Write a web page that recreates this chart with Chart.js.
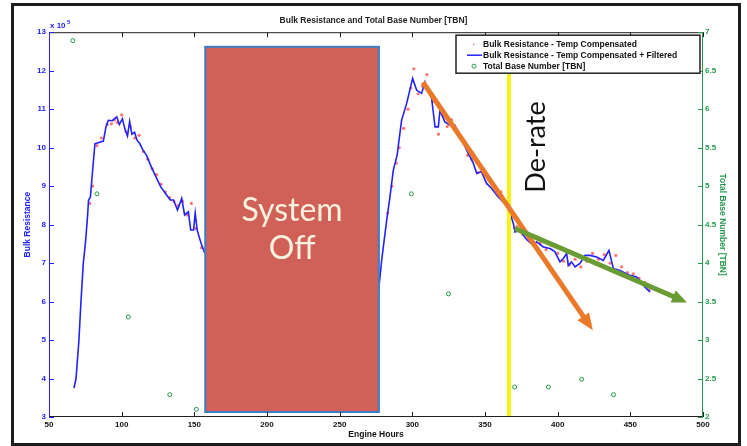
<!DOCTYPE html>
<html>
<head>
<meta charset="utf-8">
<script src="https://cdn.jsdelivr.net/npm/chart.js@4.4.0/dist/chart.umd.min.js"></script>
<style>
html, body { margin: 0; padding: 0; background: #fff; }
#wrap { position: relative; width: 747px; height: 446px; }
</style>
</head>
<body>
<div id="wrap"><canvas id="chart"></canvas></div>
<script>
// filtered bulk resistance (x 10^5) before the shutdown
const hoursA = [67.2, 68.6, 70.6, 72.0, 73.6, 75.0, 76.3, 77.2, 78.5, 80.0, 81.6, 87.4, 89.2, 90.8, 93.5, 96.6, 98.4, 100.5, 102.5, 104.0, 105.5, 107.0, 108.9, 110.5, 112.5, 114.5, 117.1, 120.4, 123.6, 126.9, 130.2, 133.4, 135.7, 138.4, 141.3, 143.3, 145.9, 147.5, 149.5, 150.6, 152.0, 154.7, 157.3];
const filteredA = [3.75, 4.0, 5.0, 6.0, 7.0, 7.5, 8.1, 8.63, 8.72, 9.4, 10.1, 10.17, 10.54, 10.71, 10.7, 10.8, 10.6, 10.75, 10.45, 10.3, 10.68, 10.35, 10.4, 10.2, 10.1, 9.95, 9.8, 9.5, 9.24, 8.98, 8.81, 8.64, 8.64, 8.38, 8.68, 8.25, 8.33, 7.86, 7.86, 8.3, 7.85, 7.51, 7.25];

// after restart
const hoursB = [276.6, 278.9, 282.3, 284.6, 286.9, 289.5, 292.6, 296.1, 300.2, 303.0, 306.4, 308.7, 313.3, 315.6, 317.9, 319.0, 322.4, 325.9, 329.3, 332.8, 337.4, 342.0, 344.3, 347.5, 351.1, 354.6, 359.1, 366.0, 369.5, 370.6, 374.0, 378.5, 383.2, 385.5, 390.1, 394.7, 398.0, 401.6, 403.9, 406.2, 407.3, 409.6, 411.9, 415.3, 418.8, 422.2, 426.8, 431.4, 435.3, 438.3, 442.8, 449.7, 454.3, 456.6, 460.0, 463.5];
const filteredB = [6.21, 7.07, 8.1, 8.72, 9.41, 9.8, 10.71, 11.15, 11.8, 11.49, 11.41, 11.71, 11.28, 10.54, 10.54, 10.97, 10.67, 10.58, 10.58, 10.32, 9.93, 9.59, 9.33, 9.38, 9.07, 8.94, 8.72, 8.46, 8.03, 7.81, 7.85, 7.62, 7.46, 7.55, 7.42, 7.38, 7.3, 7.03, 7.12, 7.25, 6.94, 7.03, 6.9, 6.99, 7.2, 7.2, 7.16, 7.07, 7.33, 6.86, 6.81, 6.68, 6.64, 6.55, 6.38, 6.25];

// raw (unfiltered) readings, red dots
const rawHours = [78, 80, 83, 86, 90, 93, 95, 97, 100, 103, 106, 109, 112, 115, 118, 121, 124, 127, 130, 133, 136, 139, 142, 145, 148, 151, 155,
  283, 286, 289, 291, 294, 297, 299, 301, 304, 307, 310, 314, 318, 321, 324, 327, 330, 334, 338, 341, 345, 349, 353, 357, 361, 365, 368, 372, 376, 380, 384, 388, 392, 396, 400, 404, 408, 412, 416, 420, 424, 428, 432, 436, 440, 444, 448, 452, 456, 460, 463];
const rawValues = [8.55, 9.0, 10.05, 10.25, 10.6, 10.62, 10.72, 10.65, 10.85, 10.42, 10.55, 10.25, 10.32, 9.9, 9.7, 9.45, 9.3, 9.05, 8.85, 8.7, 8.6, 8.5, 8.6, 8.25, 8.55, 7.9, 7.4,
  8.3, 9.0, 9.6, 10.0, 10.5, 11.0, 11.55, 12.05, 11.4, 11.6, 11.9, 11.2, 10.35, 10.85, 10.55, 10.72, 10.45, 10.2, 9.8, 9.7, 9.35, 9.45, 9.15, 9.0, 8.85, 8.6, 8.3, 7.95, 7.75, 7.6, 7.5, 7.52, 7.35, 7.45, 7.25, 7.05, 6.95, 7.1, 6.9, 7.05, 7.25, 7.1, 7.22, 7.0, 7.2, 6.9, 6.75, 6.72, 6.6, 6.5, 6.3];

// total base number samples (right axis)
const tbnHours = [66.4, 83.0, 104.6, 133.1, 151.4, 299.3, 324.9, 370.4, 393.6, 416.5, 438.4];
const tbnValues = [6.89, 4.9, 3.3, 2.29, 2.1, 4.9, 3.6, 2.39, 2.39, 2.49, 2.29];

// tick labels
const hourTicks = [50, 100, 150, 200, 250, 300, 350, 400, 450, 500];
const resistanceTicks = [3, 4, 5, 6, 7, 8, 9, 10, 11, 12, 13];
const tbnTicks = [2, 2.5, 3, 3.5, 4, 4.5, 5, 5.5, 6, 6.5, 7];

// annotations, in data units
const offHours = [157.5, 277];
const offLevels = [3.13, 12.62];
const derateHour = 366.5;
const derateLevels = [3, 12];
const trendBefore = [[307.3, 11.7], [421.9, 5.38]];
const trendAfter = [[370.6, 7.9], [485.2, 6.04]];

const BLUE = '#2222ff';
const GREEN = '#24994c';
const ORANGE = '#ea7a2a';
const LEAF = '#6a9c34';

const filteredData = hoursA.map((h, i) => ({ x: h, y: filteredA[i] }))
  .concat([{ x: 217, y: null }], hoursB.map((h, i) => ({ x: h, y: filteredB[i] })));

function setTicks(list) {
  return s => { s.ticks = list.map(v => ({ value: v })); };
}

function drawHead(ctx, p0, p1, color, len, half) {
  const a = Math.atan2(p1.y - p0.y, p1.x - p0.x);
  const tx = p1.x + 6 * Math.cos(a), ty = p1.y + 6 * Math.sin(a);
  const bx = tx - len * Math.cos(a), by = ty - len * Math.sin(a);
  ctx.fillStyle = color;
  ctx.beginPath();
  ctx.moveTo(tx, ty);
  ctx.lineTo(bx + half * Math.sin(a), by - half * Math.cos(a));
  ctx.lineTo(bx - half * Math.sin(a), by + half * Math.cos(a));
  ctx.closePath();
  ctx.fill();
}

const framePlugin = {
  id: 'frame',
  beforeDraw(chart) {
    const ctx = chart.ctx;
    ctx.save();
    ctx.fillStyle = '#fff';
    ctx.fillRect(0, 0, chart.width, chart.height);
    ctx.strokeStyle = '#1c1c1c';
    ctx.lineWidth = 3;
    ctx.strokeRect(12.5, 4.5, 727, 440);
    ctx.restore();
  }
};

const overlayPlugin = {
  id: 'overlay',
  afterDatasetsDraw(chart) {
    const ctx = chart.ctx;
    const x = chart.scales.x, y = chart.scales.y;
    ctx.save();

    // arrow heads on the trend lines
    const m1 = chart.getDatasetMeta(4).data, m2 = chart.getDatasetMeta(5).data;
    drawHead(ctx, m1[0], m1[1], ORANGE, 17, 7);
    drawHead(ctx, m2[0], m2[1], LEAF, 15, 6.5);

    // system off block
    const x0 = x.getPixelForValue(offHours[0]), x1 = x.getPixelForValue(offHours[1]);
    const y0 = y.getPixelForValue(offLevels[1]), y1 = y.getPixelForValue(offLevels[0]);
    ctx.fillStyle = '#cf6158';
    ctx.fillRect(x0, y0, x1 - x0, y1 - y0);
    ctx.strokeStyle = '#3f7ec6';
    ctx.lineWidth = 2;
    ctx.strokeRect(x0, y0, x1 - x0, y1 - y0);
    ctx.fillStyle = '#fbf1de';
    ctx.font = '32px Lato, "Open Sans", sans-serif';
    ctx.textAlign = 'center';
    ctx.textBaseline = 'middle';
    const cx = (x0 + x1) / 2;
    ctx.fillText('System', cx, 211);
    ctx.fillText('Off', cx, 249);

    // de-rate label
    ctx.fillStyle = '#111';
    ctx.font = '27px Lato, "Open Sans", sans-serif';
    ctx.translate(x.getPixelForValue(derateHour) + 27, 147);
    ctx.rotate(-Math.PI / 2);
    ctx.fillText('De-rate', 0, 0);
    ctx.restore();
  },
  afterDraw(chart) {
    const ctx = chart.ctx;
    const a = chart.chartArea;
    const x = chart.scales.x, y = chart.scales.y, y2 = chart.scales.y2;
    ctx.save();
    ctx.lineWidth = 1;

    // axes box
    ctx.strokeStyle = '#222';
    ctx.beginPath();
    ctx.moveTo(a.left, a.top + 0.5); ctx.lineTo(a.right, a.top + 0.5);
    ctx.moveTo(a.left, a.bottom - 0.5); ctx.lineTo(a.right, a.bottom - 0.5);
    hourTicks.forEach(v => {
      const px = Math.round(x.getPixelForValue(v)) + 0.5;
      ctx.moveTo(px, a.bottom); ctx.lineTo(px, a.bottom - 5);
      ctx.moveTo(px, a.top); ctx.lineTo(px, a.top + 5);
    });
    ctx.stroke();

    ctx.strokeStyle = BLUE;
    ctx.beginPath();
    ctx.moveTo(a.left + 0.5, a.top); ctx.lineTo(a.left + 0.5, a.bottom);
    resistanceTicks.forEach(v => {
      const py = Math.round(y.getPixelForValue(v)) + 0.5;
      ctx.moveTo(a.left, py); ctx.lineTo(a.left + 5, py);
    });
    ctx.stroke();

    ctx.strokeStyle = GREEN;
    ctx.beginPath();
    ctx.moveTo(a.right - 0.5, a.top); ctx.lineTo(a.right - 0.5, a.bottom);
    tbnTicks.forEach(v => {
      const py = Math.round(y2.getPixelForValue(v)) + 0.5;
      ctx.moveTo(a.right, py); ctx.lineTo(a.right - 5, py);
    });
    ctx.stroke();

    // exponent label
    ctx.fillStyle = BLUE;
    ctx.font = 'bold 8px "Liberation Sans", Arial, sans-serif';
    ctx.textAlign = 'left';
    ctx.textBaseline = 'alphabetic';
    ctx.fillText('x 10', a.left + 1, a.top - 4);
    ctx.font = 'bold 6px "Liberation Sans", Arial, sans-serif';
    ctx.fillText('5', a.left + 18, a.top - 8);

    // legend
    const lx = a.right - 247, ly = a.top + 3, lw = 244, lh = 38;
    ctx.fillStyle = '#fff';
    ctx.fillRect(lx, ly, lw, lh);
    ctx.strokeStyle = '#222';
    ctx.lineWidth = 1.5;
    ctx.strokeRect(lx, ly, lw, lh);
    const labels = ['Bulk Resistance - Temp Compensated', 'Bulk Resistance - Temp Compensated + Filtered', 'Total Base Number [TBN]'];
    ctx.font = 'bold 8.5px "Liberation Sans", Arial, sans-serif';
    ctx.textBaseline = 'middle';
    labels.forEach((t, i) => {
      const ry = ly + 9 + i * 11;
      if (i === 0) {
        ctx.fillStyle = 'rgba(255,60,60,0.7)';
        ctx.fillRect(lx + 17, ry - 0.5, 1.5, 1.5);
      } else if (i === 1) {
        ctx.strokeStyle = BLUE;
        ctx.lineWidth = 1.5;
        ctx.beginPath(); ctx.moveTo(lx + 11, ry); ctx.lineTo(lx + 26, ry); ctx.stroke();
      } else {
        ctx.strokeStyle = GREEN;
        ctx.lineWidth = 1;
        ctx.beginPath(); ctx.arc(lx + 18, ry, 2, 0, Math.PI * 2); ctx.stroke();
      }
      ctx.fillStyle = '#111';
      ctx.fillText(t, lx + 27, ry);
    });
    ctx.restore();
  }
};

const tickFont = { size: 8, weight: 'bold', family: '"Liberation Sans", Arial, sans-serif' };
const titleFont = { size: 8.5, weight: 'bold', family: '"Liberation Sans", Arial, sans-serif' };

new Chart(document.querySelector('#chart'), {
  type: 'scatter',
  data: {
    datasets: [
      {
        label: 'Bulk Resistance - Temp Compensated',
        data: rawHours.map((h, i) => ({ x: h, y: rawValues[i] })),
        pointRadius: 1.6,
        pointBackgroundColor: 'rgba(255,55,55,0.7)',
        pointBorderWidth: 0,
        order: 6
      },
      {
        label: 'Bulk Resistance - Temp Compensated + Filtered',
        data: filteredData,
        showLine: true,
        borderColor: BLUE,
        borderWidth: 1.6,
        pointRadius: 0,
        spanGaps: false,
        order: 5
      },
      {
        label: 'Total Base Number [TBN]',
        data: tbnHours.map((h, i) => ({ x: h, y: tbnValues[i] })),
        yAxisID: 'y2',
        pointRadius: 2,
        pointBorderColor: GREEN,
        pointBackgroundColor: 'rgba(0,0,0,0)',
        pointBorderWidth: 1,
        order: 4
      },
      {
        label: 'De-rate',
        data: [{ x: derateHour, y: derateLevels[1] }, { x: derateHour, y: derateLevels[0] }],
        showLine: true,
        borderColor: '#f4f40c',
        borderWidth: 4,
        pointRadius: 0,
        order: 3
      },
      {
        label: 'trend before',
        data: trendBefore.map(p => ({ x: p[0], y: p[1] })),
        showLine: true,
        borderColor: ORANGE,
        borderWidth: 5,
        pointRadius: 0,
        order: 2
      },
      {
        label: 'trend after',
        data: trendAfter.map(p => ({ x: p[0], y: p[1] })),
        showLine: true,
        borderColor: LEAF,
        borderWidth: 5,
        pointRadius: 0,
        order: 1
      }
    ]
  },
  options: {
    responsive: true,
    maintainAspectRatio: false,
    animation: false,
    layout: { padding: { top: 12, left: 0, right: 0, bottom: 0 } },
    plugins: {
      legend: { display: false },
      tooltip: { enabled: false },
      title: {
        display: true,
        text: 'Bulk Resistance and Total Base Number [TBN]',
        color: '#222',
        font: titleFont,
        padding: { top: 4, bottom: 6 }
      }
    },
    scales: {
      x: {
        type: 'linear',
        min: 50,
        max: 500,
        afterBuildTicks: setTicks(hourTicks),
        afterFit: s => { s.height = 29; },
        grid: { display: false, drawTicks: false },
        border: { display: false },
        ticks: { color: '#111', font: tickFont, padding: 3, autoSkip: false, maxRotation: 0 },
        title: { display: true, text: 'Engine Hours', color: '#111', font: titleFont, padding: { top: 0, bottom: 6 } }
      },
      y: {
        position: 'left',
        min: 3,
        max: 13,
        afterBuildTicks: setTicks(resistanceTicks),
        afterFit: s => { s.width = 49; },
        grid: { display: false, drawTicks: false },
        border: { display: false },
        ticks: { color: BLUE, font: tickFont, padding: 3, autoSkip: false },
        title: { display: true, text: 'Bulk Resistance', color: BLUE, font: titleFont, padding: { top: 23, bottom: 0 } }
      },
      y2: {
        position: 'right',
        min: 2,
        max: 7,
        afterBuildTicks: setTicks(tbnTicks),
        afterFit: s => { s.width = 44; },
        grid: { display: false, drawTicks: false },
        border: { display: false },
        ticks: { color: GREEN, font: tickFont, padding: 2, autoSkip: false, callback: v => String(v) },
        title: { display: true, text: 'Total Base Number [TBN]', color: GREEN, font: titleFont, padding: { top: 20, bottom: 0 } }
      }
    }
  },
  plugins: [framePlugin, overlayPlugin]
});
</script>
</body>
</html>
